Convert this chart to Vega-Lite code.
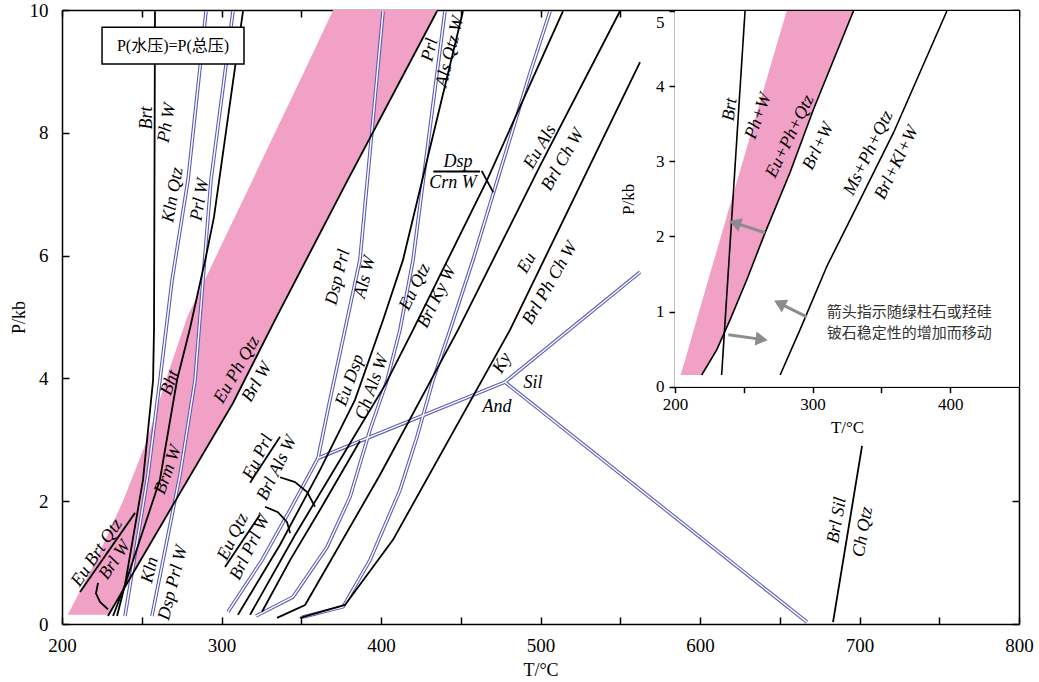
{
"$schema":"https://vega.github.io/schema/vega-lite/v6.json",
"width":957,"height":614,
"autosize":"none",
"padding":{"left":62,"top":10,"right":20,"bottom":58},
"background":"#ffffff",
"config":{"view":{"stroke":null},"axis":{"labelFont":"Liberation Serif","labelColor":"black","tickColor":"black","domainColor":"black","tickWidth":1.5,"domainWidth":1.5,"titleFont":"Liberation Serif","titleFontWeight":"normal","titleColor":"black","grid":false,"zindex":1,"labelFlush":false,"labelOverlap":false}},
"datasets":{
"pinkMain":[{"P":0.15,"L":203.6,"R":229.3},{"P":1,"L":220.6,"R":248.4},{"P":2,"L":238.2,"R":271.0},{"P":3,"L":253.4,"R":293.6},{"P":4,"L":265.4,"R":315.0},{"P":5,"L":278.5,"R":334.5},{"P":6,"L":296.8,"R":354.5},{"P":7,"L":315.2,"R":374.5},{"P":8,"L":333.5,"R":394.8},{"P":9,"L":351.9,"R":415.1},{"P":10,"L":370.0,"R":435.1}],
"black":[
{"id":"brt","i":0,"T":258.3,"P":9.98},{"id":"brt","i":1,"T":257.7,"P":4.82},{"id":"brt","i":2,"T":257.1,"P":3.97},{"id":"brt","i":3,"T":250.8,"P":2.35},{"id":"brt","i":4,"T":239.5,"P":0.64},{"id":"brt","i":5,"T":234.5,"P":0.13},
{"id":"bht","i":0,"T":313.5,"P":9.98},{"id":"bht","i":1,"T":308.5,"P":9.07},{"id":"bht","i":2,"T":299.7,"P":7.44},{"id":"bht","i":3,"T":295.3,"P":6.63},{"id":"bht","i":4,"T":290.3,"P":5.99},{"id":"bht","i":5,"T":280.3,"P":4.82},{"id":"bht","i":6,"T":272.1,"P":3.97},{"id":"bht","i":7,"T":261.4,"P":2.35},{"id":"bht","i":8,"T":239.5,"P":0.64},{"id":"bht","i":9,"T":232.0,"P":0.13},
{"id":"euph","i":0,"T":228.8,"P":0.13},{"id":"euph","i":1,"T":269.6,"P":1.94},{"id":"euph","i":2,"T":307.2,"P":3.60},{"id":"euph","i":3,"T":333.5,"P":4.95},{"id":"euph","i":4,"T":378.1,"P":7.18},{"id":"euph","i":5,"T":435.1,"P":9.98},
{"id":"ebqbar","i":0,"T":211.3,"P":0.52},{"id":"ebqbar","i":1,"T":245.8,"P":1.81},
{"id":"ebqlead","i":0,"T":222.6,"P":0.67},{"id":"ebqlead","i":1,"T":221.3,"P":0.50},{"id":"ebqlead","i":2,"T":223.8,"P":0.36},{"id":"ebqlead","i":3,"T":228.8,"P":0.24},
{"id":"prl","i":0,"T":451.4,"P":9.98},{"id":"prl","i":1,"T":413.8,"P":5.93},{"id":"prl","i":2,"T":401.3,"P":4.95},{"id":"prl","i":3,"T":383.7,"P":3.65},{"id":"prl","i":4,"T":361.8,"P":2.51},{"id":"prl","i":5,"T":336.7,"P":1.29},{"id":"prl","i":6,"T":310.3,"P":0.15},
{"id":"euqtz","i":0,"T":514.1,"P":9.98},{"id":"euqtz","i":1,"T":466.5,"P":7.23},{"id":"euqtz","i":2,"T":420.1,"P":4.79},{"id":"euqtz","i":3,"T":402.5,"P":3.89},{"id":"euqtz","i":4,"T":374.3,"P":2.67},{"id":"euqtz","i":5,"T":346.1,"P":1.45},{"id":"euqtz","i":6,"T":317.9,"P":0.15},
{"id":"s1","i":0,"T":386.8,"P":2.98},{"id":"s1","i":1,"T":361.8,"P":1.86},{"id":"s1","i":2,"T":343.0,"P":1.04},{"id":"s1","i":3,"T":325.4,"P":0.20},
{"id":"euals","i":0,"T":549.8,"P":9.98},{"id":"euals","i":1,"T":499.7,"P":7.46},{"id":"euals","i":2,"T":448.3,"P":4.79},{"id":"euals","i":3,"T":399.4,"P":2.43},{"id":"euals","i":4,"T":352.4,"P":0.31},{"id":"euals","i":5,"T":334.8,"P":0.10},
{"id":"eu","i":0,"T":562.4,"P":9.15},{"id":"eu","i":1,"T":480.9,"P":4.79},{"id":"eu","i":2,"T":407.5,"P":1.37},{"id":"eu","i":3,"T":377.4,"P":0.31},{"id":"eu","i":4,"T":349.2,"P":0.10},
{"id":"brlsil","i":0,"T":701.6,"P":2.90},{"id":"brlsil","i":1,"T":683.4,"P":0.03},
{"id":"dspbar","i":0,"T":432.8,"P":7.37},{"id":"dspbar","i":1,"T":462.1,"P":7.37},
{"id":"dspx","i":0,"T":463.1,"P":7.38},{"id":"dspx","i":1,"T":470.4,"P":7.03},
{"id":"euprlbar","i":0,"T":317.9,"P":2.30},{"id":"euprlbar","i":1,"T":336.7,"P":3.05},
{"id":"euprllead","i":0,"T":336.7,"P":2.39},{"id":"euprllead","i":1,"T":346.1,"P":2.31},{"id":"euprllead","i":2,"T":353.7,"P":2.15},{"id":"euprllead","i":3,"T":358.6,"P":1.91},
{"id":"euqtzbar","i":0,"T":302.2,"P":0.93},{"id":"euqtzbar","i":1,"T":324.1,"P":1.78},
{"id":"euqtzlead","i":0,"T":327.3,"P":1.91},{"id":"euqtzlead","i":1,"T":335.4,"P":1.82},{"id":"euqtzlead","i":2,"T":341.1,"P":1.66},{"id":"euqtzlead","i":3,"T":343.0,"P":1.48}
],
"blue":[
{"id":"b1","i":0,"T":290.3,"P":9.98},{"id":"b1","i":1,"T":279.0,"P":7.23},{"id":"b1","i":2,"T":269.0,"P":5.60},{"id":"b1","i":3,"T":261.4,"P":3.97},{"id":"b1","i":4,"T":253.9,"P":2.43},{"id":"b1","i":5,"T":239.5,"P":0.13},
{"id":"b2","i":0,"T":307.2,"P":9.98},{"id":"b2","i":1,"T":293.4,"P":7.23},{"id":"b2","i":2,"T":288.4,"P":5.60},{"id":"b2","i":3,"T":283.4,"P":3.97},{"id":"b2","i":4,"T":274.0,"P":2.43},{"id":"b2","i":5,"T":256.4,"P":0.13},
{"id":"b3","i":0,"T":401.3,"P":9.98},{"id":"b3","i":1,"T":386.8,"P":5.93},{"id":"b3","i":2,"T":377.4,"P":4.79},{"id":"b3","i":3,"T":368.0,"P":3.65},{"id":"b3","i":4,"T":360.5,"P":2.70},{"id":"b3","i":5,"T":343.0,"P":1.86},{"id":"b3","i":6,"T":325.4,"P":1.04},{"id":"b3","i":7,"T":304.1,"P":0.20},
{"id":"b4","i":0,"T":440.1,"P":9.98},{"id":"b4","i":1,"T":420.1,"P":5.93},{"id":"b4","i":2,"T":411.9,"P":4.79},{"id":"b4","i":3,"T":403.8,"P":3.97},{"id":"b4","i":4,"T":393.1,"P":3.16},{"id":"b4","i":5,"T":380.6,"P":2.07},{"id":"b4","i":6,"T":366.1,"P":1.25},{"id":"b4","i":7,"T":344.8,"P":0.44},{"id":"b4","i":8,"T":321.6,"P":0.13},
{"id":"b5","i":0,"T":506.0,"P":9.98},{"id":"b5","i":1,"T":493.4,"P":8.97},{"id":"b5","i":2,"T":457.7,"P":5.93},{"id":"b5","i":3,"T":443.3,"P":4.79},{"id":"b5","i":4,"T":432.6,"P":3.97},{"id":"b5","i":5,"T":422.6,"P":3.05},{"id":"b5","i":6,"T":411.9,"P":2.18},{"id":"b5","i":7,"T":393.1,"P":1.04},{"id":"b5","i":8,"T":376.2,"P":0.28},{"id":"b5","i":9,"T":350.5,"P":0.11},
{"id":"kyand","i":0,"T":360.5,"P":2.70},{"id":"kyand","i":1,"T":477.7,"P":3.94},
{"id":"andsil","i":0,"T":477.7,"P":3.94},{"id":"andsil","i":1,"T":667.1,"P":0.03},
{"id":"kysil","i":0,"T":477.7,"P":3.94},{"id":"kysil","i":1,"T":562.4,"P":5.73}
],
"lab90":[{"text":"Brt","T":253.3,"P":8.24}],
"lab80":[{"text":"Ph W","T":265.8,"P":8.16},{"text":"Kln Qtz","T":269.6,"P":6.99},{"text":"Prl W","T":286.5,"P":6.91},{"text":"Brl Sil","T":685.9,"P":1.69},{"text":"Ch Qtz","T":702.2,"P":1.50}],
"lab76":[{"text":"Dsp Prl","T":373.0,"P":5.65},{"text":"Als W","T":390.0,"P":5.65},{"text":"Prl","T":430.7,"P":9.35},{"text":"Als Qtz W","T":443.3,"P":9.32},{"text":"Kln","T":255.2,"P":0.88},{"text":"Dsp Prl W","T":269.6,"P":0.67}],
"lab70":[{"text":"Bht","T":267.7,"P":3.93},{"text":"Brm W","T":266.5,"P":2.51},{"text":"Eu Dsp","T":380.6,"P":3.97},{"text":"Ch Als W","T":394.4,"P":3.86}],
"lab64":[{"text":"Eu Qtz","T":421.3,"P":5.49},{"text":"Brl Ky W","T":435.1,"P":5.33},{"text":"Eu Prl","T":322.9,"P":2.72},{"text":"Brl Als W","T":334.8,"P":2.54},{"text":"Eu Qtz","T":307.2,"P":1.42},{"text":"Brl Prl W","T":317.9,"P":1.25}],
"lab60":[{"text":"Eu Ph Qtz","T":309.7,"P":4.14},{"text":"Brl W","T":322.3,"P":3.94},{"text":"Eu Als","T":499.7,"P":7.77},{"text":"Brl Ch W","T":514.1,"P":7.56},{"text":"Eu","T":491.5,"P":5.88},{"text":"Brl Ph Ch W","T":506.0,"P":5.55},{"text":"Ky","T":475.9,"P":4.25}],
"lab56":[{"text":"Eu Brt Qtz","T":221.9,"P":1.16},{"text":"Brl W","T":233.2,"P":1.04}],
"lab0":[{"text":"Dsp","T":448.3,"P":7.52},{"text":"Crn W","T":445.1,"P":7.18},{"text":"Sil","T":495.3,"P":3.93},{"text":"And","T":472.7,"P":3.53}],
"legendBox":[{"x1":225.1,"x2":314.1,"y1":9.12,"y2":9.72}],
"legendText":[{"text":"P(水压)=P(总压)","T":269.6,"P":9.42}],
"insetBox":[{"x1":200,"x2":450,"y1":0,"y2":5}],
"pinkInset":[{"P":0.156,"L":204.1,"R":219.4},{"P":0.5,"L":209.6,"R":230.6},{"P":1,"L":217.5,"R":242.5},{"P":1.5,"L":225.4,"R":253.8},{"P":2,"L":233.4,"R":264.4},{"P":2.5,"L":241.3,"R":275.7},{"P":3,"L":249.3,"R":286.6},{"P":3.5,"L":257.2,"R":296.8},{"P":4,"L":265.1,"R":307.4},{"P":4.5,"L":273.1,"R":318.5},{"P":5,"L":281.2,"R":329.7}],
"insetBlack":[
{"id":"eu","i":0,"T":219.4,"P":0.156},{"id":"eu","i":1,"T":230.3,"P":0.49},{"id":"eu","i":2,"T":240.0,"P":0.89},{"id":"eu","i":3,"T":252.1,"P":1.42},{"id":"eu","i":4,"T":265.5,"P":2.05},{"id":"eu","i":5,"T":283.6,"P":2.85},{"id":"eu","i":6,"T":300.6,"P":3.69},{"id":"eu","i":7,"T":329.7,"P":5.0},
{"id":"brt","i":0,"T":233.9,"P":0.156},{"id":"brt","i":1,"T":250.9,"P":5.0},
{"id":"ms","i":0,"T":276.4,"P":0.156},{"id":"ms","i":1,"T":290.9,"P":0.76},{"id":"ms","i":2,"T":310.3,"P":1.60},{"id":"ms","i":3,"T":329.7,"P":2.31},{"id":"ms","i":4,"T":358.8,"P":3.38},{"id":"ms","i":5,"T":397.6,"P":5.0}
],
"arrows":[
{"id":"a1","i":0,"T":265.5,"P":2.05},{"id":"a1","i":1,"T":243.5,"P":2.18},
{"id":"a2","i":0,"T":295.8,"P":0.93},{"id":"a2","i":1,"T":276.0,"P":1.11},
{"id":"a3","i":0,"T":238.8,"P":0.69},{"id":"a3","i":1,"T":263.0,"P":0.63}
],
"ilab82":[{"text":"Brt","T":240.0,"P":3.69}],
"ilab70":[{"text":"Ph+W","T":260.6,"P":3.60}],
"ilab64":[{"text":"Eu+Ph+Qtz","T":283.6,"P":3.33},{"text":"Brl+W","T":304.2,"P":3.20},{"text":"Ms+Ph+Qtz","T":340.6,"P":3.11},{"text":"Brl+Kl+W","T":361.2,"P":2.98}],
"icn":[{"text":"箭头指示随绿柱石或羟硅","T":310.3,"P":0.99},{"text":"铍石稳定性的增加而移动","T":310.3,"P":0.71}],
"dummyMain":[{"T":200,"P":0}],
"dummyInset":[{"T":200,"P":0}]
},
"resolve":{"scale":{"x":"independent","y":"independent"},"axis":{"x":"independent","y":"independent"}},
"layer":[
{"layer":[
 {"data":{"name":"pinkMain"},"mark":{"type":"area","orient":"horizontal","color":"#f1a1c6"},
  "encoding":{
   "y":{"field":"P","type":"quantitative","scale":{"domain":[0,10],"nice":false,"zero":false},"axis":null},
   "x":{"field":"L","type":"quantitative","scale":{"domain":[200,800],"nice":false,"zero":false},"axis":null},
   "x2":{"field":"R"}}},
 {"data":{"name":"blue"},"mark":{"type":"line","color":"#5c5cb8","strokeWidth":3.6},
  "encoding":{"x":{"field":"T","type":"quantitative","scale":{"domain":[200,800],"nice":false,"zero":false},"axis":null},"y":{"field":"P","type":"quantitative","scale":{"domain":[0,10],"nice":false,"zero":false},"axis":null},"detail":{"field":"id"},"order":{"field":"i","type":"quantitative"}}},
 {"data":{"name":"blue"},"mark":{"type":"line","color":"#ffffff","strokeWidth":1.4},
  "encoding":{"x":{"field":"T","type":"quantitative","scale":{"domain":[200,800],"nice":false,"zero":false},"axis":null},"y":{"field":"P","type":"quantitative","scale":{"domain":[0,10],"nice":false,"zero":false},"axis":null},"detail":{"field":"id"},"order":{"field":"i","type":"quantitative"}}},
 {"data":{"name":"black"},"mark":{"type":"line","color":"#000000","strokeWidth":1.8},
  "encoding":{"x":{"field":"T","type":"quantitative","scale":{"domain":[200,800],"nice":false,"zero":false},"axis":null},"y":{"field":"P","type":"quantitative","scale":{"domain":[0,10],"nice":false,"zero":false},"axis":null},"detail":{"field":"id"},"order":{"field":"i","type":"quantitative"}}},
 {"data":{"name":"lab90"},"mark":{"type":"text","font":"Liberation Serif","fontStyle":"italic","fontSize":18,"angle":-90,"color":"black"},
  "encoding":{"x":{"field":"T","type":"quantitative","scale":{"domain":[200,800],"nice":false,"zero":false},"axis":null},"y":{"field":"P","type":"quantitative","scale":{"domain":[0,10],"nice":false,"zero":false},"axis":null},"text":{"field":"text"}}},
 {"data":{"name":"lab80"},"mark":{"type":"text","font":"Liberation Serif","fontStyle":"italic","fontSize":18,"angle":-80,"color":"black"},
  "encoding":{"x":{"field":"T","type":"quantitative","scale":{"domain":[200,800],"nice":false,"zero":false},"axis":null},"y":{"field":"P","type":"quantitative","scale":{"domain":[0,10],"nice":false,"zero":false},"axis":null},"text":{"field":"text"}}},
 {"data":{"name":"lab76"},"mark":{"type":"text","font":"Liberation Serif","fontStyle":"italic","fontSize":18,"angle":-76,"color":"black"},
  "encoding":{"x":{"field":"T","type":"quantitative","scale":{"domain":[200,800],"nice":false,"zero":false},"axis":null},"y":{"field":"P","type":"quantitative","scale":{"domain":[0,10],"nice":false,"zero":false},"axis":null},"text":{"field":"text"}}},
 {"data":{"name":"lab70"},"mark":{"type":"text","font":"Liberation Serif","fontStyle":"italic","fontSize":18,"angle":-70,"color":"black"},
  "encoding":{"x":{"field":"T","type":"quantitative","scale":{"domain":[200,800],"nice":false,"zero":false},"axis":null},"y":{"field":"P","type":"quantitative","scale":{"domain":[0,10],"nice":false,"zero":false},"axis":null},"text":{"field":"text"}}},
 {"data":{"name":"lab64"},"mark":{"type":"text","font":"Liberation Serif","fontStyle":"italic","fontSize":18,"angle":-64,"color":"black"},
  "encoding":{"x":{"field":"T","type":"quantitative","scale":{"domain":[200,800],"nice":false,"zero":false},"axis":null},"y":{"field":"P","type":"quantitative","scale":{"domain":[0,10],"nice":false,"zero":false},"axis":null},"text":{"field":"text"}}},
 {"data":{"name":"lab60"},"mark":{"type":"text","font":"Liberation Serif","fontStyle":"italic","fontSize":18,"angle":-60,"color":"black"},
  "encoding":{"x":{"field":"T","type":"quantitative","scale":{"domain":[200,800],"nice":false,"zero":false},"axis":null},"y":{"field":"P","type":"quantitative","scale":{"domain":[0,10],"nice":false,"zero":false},"axis":null},"text":{"field":"text"}}},
 {"data":{"name":"lab56"},"mark":{"type":"text","font":"Liberation Serif","fontStyle":"italic","fontSize":18,"angle":-56,"color":"black"},
  "encoding":{"x":{"field":"T","type":"quantitative","scale":{"domain":[200,800],"nice":false,"zero":false},"axis":null},"y":{"field":"P","type":"quantitative","scale":{"domain":[0,10],"nice":false,"zero":false},"axis":null},"text":{"field":"text"}}},
 {"data":{"name":"lab0"},"mark":{"type":"text","font":"Liberation Serif","fontStyle":"italic","fontSize":18,"angle":0,"color":"black"},
  "encoding":{"x":{"field":"T","type":"quantitative","scale":{"domain":[200,800],"nice":false,"zero":false},"axis":null},"y":{"field":"P","type":"quantitative","scale":{"domain":[0,10],"nice":false,"zero":false},"axis":null},"text":{"field":"text"}}},
 {"data":{"name":"legendBox"},"mark":{"type":"rect","fill":"#ffffff","stroke":"#000000","strokeWidth":1.5},
  "encoding":{"x":{"field":"x1","type":"quantitative","scale":{"domain":[200,800],"nice":false,"zero":false},"axis":null},"x2":{"field":"x2"},"y":{"field":"y1","type":"quantitative","scale":{"domain":[0,10],"nice":false,"zero":false},"axis":null},"y2":{"field":"y2"}}},
 {"data":{"name":"legendText"},"mark":{"type":"text","font":"Liberation Serif, Noto Sans CJK SC","fontSize":16,"color":"black"},
  "encoding":{"x":{"field":"T","type":"quantitative","scale":{"domain":[200,800],"nice":false,"zero":false},"axis":null},"y":{"field":"P","type":"quantitative","scale":{"domain":[0,10],"nice":false,"zero":false},"axis":null},"text":{"field":"text"}}}
]},
{"layer":[
 {"data":{"name":"insetBox"},"mark":{"type":"rect","fill":"#ffffff"},
  "encoding":{
   "x":{"field":"x1","type":"quantitative","scale":{"domain":[200,450],"range":[613,957],"nice":false,"zero":false},"axis":null},
   "x2":{"field":"x2"},
   "y":{"field":"y1","type":"quantitative","scale":{"domain":[0,5],"range":[376.7,1],"nice":false,"zero":false},"axis":null},
   "y2":{"field":"y2"}}},
 {"data":{"name":"pinkInset"},"mark":{"type":"area","orient":"horizontal","color":"#f1a1c6"},
  "encoding":{"y":{"field":"P","type":"quantitative","scale":{"domain":[0,5],"range":[376.7,1],"nice":false,"zero":false},"axis":null},"x":{"field":"L","type":"quantitative","scale":{"domain":[200,450],"range":[613,957],"nice":false,"zero":false},"axis":null},"x2":{"field":"R"}}},
 {"data":{"name":"insetBlack"},"mark":{"type":"line","color":"#000000","strokeWidth":1.6},
  "encoding":{"x":{"field":"T","type":"quantitative","scale":{"domain":[200,450],"range":[613,957],"nice":false,"zero":false},"axis":null},"y":{"field":"P","type":"quantitative","scale":{"domain":[0,5],"range":[376.7,1],"nice":false,"zero":false},"axis":null},"detail":{"field":"id"},"order":{"field":"i","type":"quantitative"}}},
 {"data":{"name":"arrows"},"mark":{"type":"line","color":"#8c8c8c","strokeWidth":3},
  "encoding":{"x":{"field":"T","type":"quantitative","scale":{"domain":[200,450],"range":[613,957],"nice":false,"zero":false},"axis":null},"y":{"field":"P","type":"quantitative","scale":{"domain":[0,5],"range":[376.7,1],"nice":false,"zero":false},"axis":null},"detail":{"field":"id"},"order":{"field":"i","type":"quantitative"}}},
 {"data":{"name":"arrows"},"transform":[{"filter":"datum.id === 'a1' && datum.i === 1"}],"mark":{"type":"point","shape":"triangle-up","filled":true,"color":"#8c8c8c","size":200,"angle":-71,"opacity":1},
  "encoding":{"x":{"field":"T","type":"quantitative","scale":{"domain":[200,450],"range":[613,957],"nice":false,"zero":false},"axis":null},"y":{"field":"P","type":"quantitative","scale":{"domain":[0,5],"range":[376.7,1],"nice":false,"zero":false},"axis":null}}},
 {"data":{"name":"arrows"},"transform":[{"filter":"datum.id === 'a2' && datum.i === 1"}],"mark":{"type":"point","shape":"triangle-up","filled":true,"color":"#8c8c8c","size":200,"angle":-63,"opacity":1},
  "encoding":{"x":{"field":"T","type":"quantitative","scale":{"domain":[200,450],"range":[613,957],"nice":false,"zero":false},"axis":null},"y":{"field":"P","type":"quantitative","scale":{"domain":[0,5],"range":[376.7,1],"nice":false,"zero":false},"axis":null}}},
 {"data":{"name":"arrows"},"transform":[{"filter":"datum.id === 'a3' && datum.i === 1"}],"mark":{"type":"point","shape":"triangle-up","filled":true,"color":"#8c8c8c","size":200,"angle":98,"opacity":1},
  "encoding":{"x":{"field":"T","type":"quantitative","scale":{"domain":[200,450],"range":[613,957],"nice":false,"zero":false},"axis":null},"y":{"field":"P","type":"quantitative","scale":{"domain":[0,5],"range":[376.7,1],"nice":false,"zero":false},"axis":null}}},
 {"data":{"name":"ilab82"},"mark":{"type":"text","font":"Liberation Serif","fontStyle":"italic","fontSize":18,"angle":-82,"color":"black"},
  "encoding":{"x":{"field":"T","type":"quantitative","scale":{"domain":[200,450],"range":[613,957],"nice":false,"zero":false},"axis":null},"y":{"field":"P","type":"quantitative","scale":{"domain":[0,5],"range":[376.7,1],"nice":false,"zero":false},"axis":null},"text":{"field":"text"}}},
 {"data":{"name":"ilab70"},"mark":{"type":"text","font":"Liberation Serif","fontStyle":"italic","fontSize":18,"angle":-70,"color":"black"},
  "encoding":{"x":{"field":"T","type":"quantitative","scale":{"domain":[200,450],"range":[613,957],"nice":false,"zero":false},"axis":null},"y":{"field":"P","type":"quantitative","scale":{"domain":[0,5],"range":[376.7,1],"nice":false,"zero":false},"axis":null},"text":{"field":"text"}}},
 {"data":{"name":"ilab64"},"mark":{"type":"text","font":"Liberation Serif","fontStyle":"italic","fontSize":18,"angle":-64,"color":"black"},
  "encoding":{"x":{"field":"T","type":"quantitative","scale":{"domain":[200,450],"range":[613,957],"nice":false,"zero":false},"axis":null},"y":{"field":"P","type":"quantitative","scale":{"domain":[0,5],"range":[376.7,1],"nice":false,"zero":false},"axis":null},"text":{"field":"text"}}},
 {"data":{"name":"icn"},"mark":{"type":"text","font":"Noto Sans CJK SC","fontSize":15,"align":"left","color":"#333333"},
  "encoding":{"x":{"field":"T","type":"quantitative","scale":{"domain":[200,450],"range":[613,957],"nice":false,"zero":false},"axis":null},"y":{"field":"P","type":"quantitative","scale":{"domain":[0,5],"range":[376.7,1],"nice":false,"zero":false},"axis":null},"text":{"field":"text"}}}
]},
{"layer":[
 {"data":{"name":"dummyMain"},"mark":{"type":"point","opacity":0},
  "encoding":{
   "y":{"field":"P","type":"quantitative","scale":{"domain":[0,10],"nice":false,"zero":false},
        "axis":{"orient":"left","title":"P/kb","values":[0,2,4,6,8,10],"tickSize":-7,"labelPadding":21,"labelFontSize":19,"titleFontSize":18,"titlePadding":1}},
   "x":{"field":"T","type":"quantitative","scale":{"domain":[200,800],"nice":false,"zero":false},
        "axis":{"orient":"bottom","title":"T/°C","values":[200,250,300,350,400,450,500,550,600,650,700,750,800],"labelExpr":"datum.value % 100 === 0 ? datum.label : ''","tickSize":-7,"labelPadding":19,"labelFontSize":19,"titleFontSize":18,"titlePadding":6}}}}
]},
{"layer":[
 {"data":{"name":"dummyInset"},"mark":{"type":"point","opacity":0},
  "encoding":{
   "x":{"field":"T","type":"quantitative","scale":{"domain":[200,450],"range":[613,957],"nice":false,"zero":false},
        "axis":{"orient":"bottom","offset":-237.3,"title":"T/°C","values":[200,250,300,350,400],"labelExpr":"datum.value % 100 === 0 ? datum.label : ''","tickSize":6,"labelPadding":4,"labelFontSize":17,"titleFontSize":17,"titlePadding":7}},
   "y":{"field":"P","type":"quantitative","scale":{"domain":[0,5],"range":[376.7,1],"nice":false,"zero":false},
        "axis":{"orient":"left","offset":-613,"title":"P/kb","values":[0,1,2,3,4,5],"tickSize":6,"labelPadding":5,"labelFontSize":17,"titleFontSize":17,"titlePadding":18,"labelOffset":{"condition":{"test":"datum.value === 5","value":11},"value":0}}}}}
]},
{"layer":[
 {"data":{"name":"dummyMain"},"mark":{"type":"point","opacity":0},
  "encoding":{
   "x":{"field":"T","type":"quantitative","scale":{"domain":[200,800],"nice":false,"zero":false},
        "axis":{"orient":"top","title":null,"labels":false,"values":[200,250,300,350,400,450,500,550,600,650,700,750,800],"tickSize":-7}},
   "y":{"field":"P","type":"quantitative","scale":{"domain":[0,10],"nice":false,"zero":false},
        "axis":{"orient":"right","title":null,"labels":false,"values":[0,2,4,6,8,10],"tickSize":-7}}}}
]}
]
}
